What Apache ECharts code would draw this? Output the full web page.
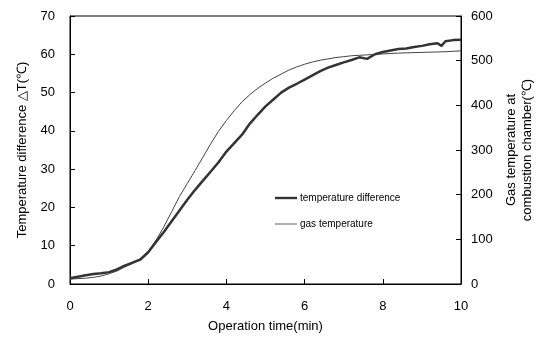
<!DOCTYPE html>
<html>
<head>
<meta charset="utf-8">
<script src="https://cdn.jsdelivr.net/npm/echarts@6/dist/echarts.min.js"></script>
<style>html,body{margin:0;padding:0;background:#fff;}#c{width:537px;height:337px;}</style>
</head>
<body>
<div id="c"></div>
<script>
var timeA = [0,0.2,0.4,0.6,0.8,1.0,1.2,1.4,1.6,1.8,2.0,2.2,2.4,2.6,2.8,3.0,3.2,3.4,3.6,3.8,4.0,4.2,4.4,4.6,4.8,5.0,5.2,5.4,5.6,5.8,6.0,6.2,6.4,6.6,6.8,7.0,7.2,7.4,7.6,7.8,8.0,8.2,8.4,8.6,8.8,9.0,9.2,9.4,9.5,9.6,9.8,10.0];
var tempDiff = [1.5,1.9,2.3,2.6,2.8,3.1,3.8,4.8,5.6,6.4,8.3,11.0,13.6,16.4,19.2,22.0,24.6,27.0,29.4,31.8,34.6,36.8,39.0,41.9,44.2,46.4,48.2,50.0,51.3,52.3,53.4,54.5,55.6,56.5,57.2,57.9,58.5,59.2,58.8,60.0,60.6,61.0,61.4,61.5,61.9,62.2,62.6,62.9,62.2,63.4,63.7,63.8];
var timeB = [0,0.2,0.4,0.6,0.8,1.0,1.2,1.4,1.6,1.8,2.0,2.2,2.4,2.6,2.8,3.0,3.2,3.4,3.6,3.8,4.0,4.2,4.4,4.6,4.8,5.0,5.2,5.4,5.6,5.8,6.0,6.2,6.4,6.6,6.8,7.0,7.2,7.4,7.6,7.8,8.0,8.4,8.8,9.2,9.6,10.0];
var gasTemp = [11,12,13,15,18,23,29,38,46,56,73,98,128,162,196,225,254,284,314,342,366,388,408,424,438,450,461,470,479,486,492,497,501,504,507,509,511,512,513,514,515,517,518,519,520,522];
var leftTicks = [0,70,10];
var rightTicks = [0,600,100];
var xTicks = [0,10,2];

function pairs(xs, ys){ return xs.map(function(x,i){ return [x, ys[i]]; }); }

var font = 'Liberation Sans, Arial, sans-serif';
var chart = echarts.init(document.getElementById('c'), null, {renderer:'canvas'});
chart.setOption({
  animation: false,
  backgroundColor: '#fff',
  textStyle: {fontFamily: font},
  grid: {left:70, right:76, top:16, bottom:53, show:true, borderColor:'#000', borderWidth:1, containLabel:false, outerBoundsMode:'none'},
  legend: {
    orient: 'vertical', left: 270, top: 188, itemGap: 16, itemWidth: 22, itemHeight: 10,
    textStyle: {fontSize: 10, color: '#000', fontFamily: font, padding:[0,0,0,-2]},
    data: [
      {name:'temperature difference', icon:'path://M0,3.8L22,3.8L22,6.2L0,6.2Z', itemStyle:{color:'#333'}},
      {name:'gas temperature', icon:'path://M0,4.4L22,4.4L22,5.6L0,5.6Z', itemStyle:{color:'#777'}}
    ]
  },
  xAxis: {
    type:'value', min:xTicks[0], max:xTicks[1], interval:xTicks[2],
    name:'Operation time(min)', nameLocation:'middle', nameGap:36,
    nameTextStyle:{fontSize:13, color:'#000', fontFamily:font},
    axisLine:{show:true, lineStyle:{color:'#000', width:1}},
    axisTick:{show:true, inside:true, length:5, lineStyle:{color:'#000'}},
    axisLabel:{fontSize:13, color:'#000', margin:16, fontFamily:font},
    splitLine:{show:false}
  },
  yAxis: [
    {
      type:'value', min:leftTicks[0], max:leftTicks[1], interval:leftTicks[2], position:'left',
      name:'Temperature difference \u25B3T(\u2103)', nameLocation:'middle', nameGap:41, nameRotate:90,
      nameTextStyle:{fontSize:13, color:'#000', fontFamily:font},
      axisLine:{show:true, lineStyle:{color:'#000', width:1}},
      axisTick:{show:true, inside:true, length:5, lineStyle:{color:'#000'}},
      axisLabel:{fontSize:13, color:'#000', margin:15, fontFamily:font},
      splitLine:{show:false}
    },
    {
      type:'value', min:rightTicks[0], max:rightTicks[1], interval:rightTicks[2], position:'right',
      name:'Gas temperature at\ncombustion chamber(\u2103)', nameLocation:'middle', nameGap:42, nameRotate:90,
      nameTextStyle:{fontSize:13, color:'#000', fontFamily:font, lineHeight:16},
      axisLine:{show:true, lineStyle:{color:'#000', width:1}},
      axisTick:{show:true, inside:true, length:5, lineStyle:{color:'#000'}},
      axisLabel:{fontSize:13, color:'#000', margin:10, fontFamily:font},
      splitLine:{show:false}
    }
  ],
  series: [
    {
      name:'temperature difference', type:'line', yAxisIndex:0, showSymbol:false, symbol:'none',
      data: pairs(timeA, tempDiff),
      lineStyle:{color:'#333', width:2.5}, itemStyle:{color:'#333'}, z:3
    },
    {
      name:'gas temperature', type:'line', yAxisIndex:1, showSymbol:false, symbol:'none',
      data: pairs(timeB, gasTemp),
      lineStyle:{color:'#444', width:1}, itemStyle:{color:'#777'}, z:2
    }
  ]
});
</script>
</body>
</html>
